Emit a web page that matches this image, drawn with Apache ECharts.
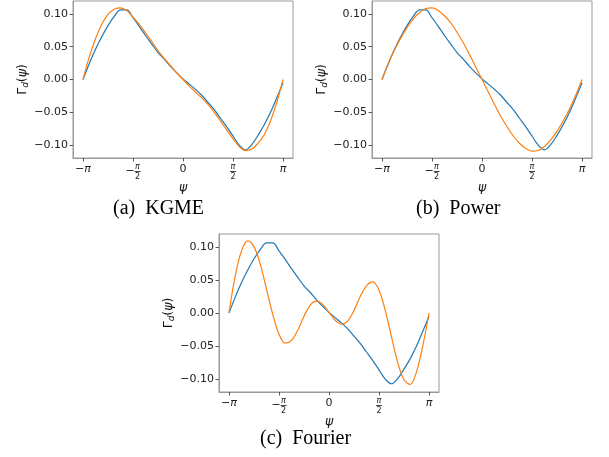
<!DOCTYPE html>
<html><head><meta charset="utf-8">
<script src="https://cdn.jsdelivr.net/npm/echarts@6/dist/echarts.min.js"></script>
<style>html,body{margin:0;padding:0;background:#fff}#c{width:609px;height:457px}</style>
</head><body><div id="c"></div>
<script>
// ψ sample positions (radians)
const psi = [-3.1416, -2.9452, -2.7489, -2.5525, -2.3562, -2.1598, -1.9635, -1.7671, -1.5708, -1.3744, -1.1781, -0.9817, -0.7854, -0.5890, -0.3927, -0.1963, 0,
  0.1963, 0.3927, 0.5890, 0.7854, 0.9817, 1.1781, 1.3744, 1.5708, 1.7671, 1.9635, 2.1598, 2.3562, 2.5525, 2.7489, 2.9452, 3.1416];
// empirical Γd (blue, shared by all panels)
const empirical = [0, 0.024, 0.046, 0.065, 0.082, 0.096, 0.106, 0.106, 0.094, 0.081, 0.067, 0.054, 0.041, 0.031, 0.020, 0.010, 0.001,
  -0.007, -0.015, -0.024, -0.035, -0.046, -0.059, -0.072, -0.086, -0.100, -0.107, -0.099, -0.085, -0.069, -0.050, -0.028, -0.005];
// fitted curves (orange)
const fitKGME = [0, 0.034, 0.062, 0.084, 0.099, 0.107, 0.109, 0.105, 0.095, 0.084, 0.071, 0.058, 0.044, 0.032, 0.021, 0.010, 0,
  -0.010, -0.019, -0.028, -0.038, -0.050, -0.063, -0.077, -0.090, -0.102, -0.108, -0.106, -0.097, -0.084, -0.063, -0.035, 0];
const fitPower = [0, 0.024, 0.045, 0.063, 0.079, 0.092, 0.102, 0.108, 0.109, 0.105, 0.097, 0.086, 0.072, 0.056, 0.038, 0.019, 0,
  -0.019, -0.038, -0.056, -0.072, -0.086, -0.097, -0.105, -0.109, -0.108, -0.102, -0.092, -0.079, -0.063, -0.045, -0.024, 0];
const fitFourier = [0, 0.056, 0.094, 0.109, 0.100, 0.074, 0.036, -0.002, -0.032, -0.0457, -0.0414, -0.026, -0.005, 0.012, 0.018, 0.013, 0.001,
  -0.011, -0.017, -0.012, 0.004, 0.025, 0.041, 0.047, 0.0345, 0.004, -0.036, -0.075, -0.101, -0.108, -0.089, -0.050, 0];

const xTickValues = [-3.14159265, -1.57079633, 0, 1.57079633, 3.14159265];
const xTickLabels = ['−π', '−π/2', '0', 'π/2', 'π'];
const yTickValues = [-0.10, -0.05, 0.00, 0.05, 0.10];
const yTickLabels = ['−0.10', '−0.05', '0.00', '0.05', '0.10'];
const captions = ['(a)  KGME', '(b)  Power', '(c)  Fourier'];
const fits = [fitKGME, fitPower, fitFourier];

const grids = [
  {left: 73, top: 1, width: 220, height: 157},
  {left: 372, top: 1, width: 220, height: 157},
  {left: 219, top: 234, width: 220, height: 158}
];
const captionPos = [{left: 113, top: 199}, {left: 416, top: 199}, {left: 260, top: 429}];

function xFmt(v) {
  let i = xTickValues.findIndex(t => Math.abs(t - v) < 1e-4);
  if (i < 0) return '';
  const s = xTickLabels[i];
  if (s === '0') return '{r|0}';
  if (s === 'π') return '{ri|π}';
  if (s === '−π') return '{r|−}{ri|π}';
  if (s === 'π/2') return '{fn|π}\n{fb| }\n{fd|2}';
  if (s === '−π/2') return '{fp| }{fn|π}\n{fm|−}{fb| }\n{fp| }{fd|2}';
  return s;
}
function yFmt(v) {
  let i = yTickValues.findIndex(t => Math.abs(t - v) < 1e-6);
  return i < 0 ? '' : yTickLabels[i];
}
const F = 'DejaVu Sans';
const frameColor = '#999';
const xRich = {
  r: {fontSize: 11, fontFamily: F, color: '#222', lineHeight: 13},
  ri: {fontSize: 11, fontFamily: F, fontStyle: 'italic', color: '#222', lineHeight: 13},
  fn: {fontSize: 8, fontFamily: F, fontStyle: 'italic', color: '#222', lineHeight: 7},
  fd: {fontSize: 8, fontFamily: F, color: '#222', lineHeight: 7},
  fb: {width: 6, height: 0.9, backgroundColor: '#333', lineHeight: 3, fontSize: 1},
  fm: {fontSize: 11, fontFamily: F, color: '#222', lineHeight: 3},
  fp: {width: 9, fontSize: 1, lineHeight: 7}
};
const yNameRich = {
  g: {fontSize: 12.5, fontFamily: F, color: '#111', lineHeight: 16},
  i: {fontSize: 12.5, fontFamily: F, fontStyle: 'italic', color: '#111', lineHeight: 16},
  d: {fontSize: 9, fontFamily: F, fontStyle: 'italic', color: '#111', lineHeight: 16, verticalAlign: 'bottom', padding: [6, 0, 0, 0]}
};

const option = {
  animation: false,
  backgroundColor: '#fff',
  title: captions.map((c, i) => ({
    text: c, left: captionPos[i].left, top: captionPos[i].top, padding: 0,
    textStyle: {fontFamily: 'Liberation Serif', fontSize: 20, fontWeight: 'normal', color: '#000'}
  })),
  grid: grids.map(g => Object.assign({show: true, borderColor: frameColor, borderWidth: 1, containLabel: false}, g)),
  xAxis: grids.map((g, i) => ({
    type: 'value', gridIndex: i, min: -3.4558, max: 3.4558,
    axisLine: {show: true, onZero: false, lineStyle: {color: frameColor, width: 1}},
    splitLine: {show: false},
    axisTick: {show: true, customValues: xTickValues, length: 3.5, lineStyle: {color: '#333', width: 0.8}},
    axisLabel: {customValues: xTickValues, formatter: xFmt, margin: 5, rich: xRich, color: '#222', fontSize: 11, fontFamily: F},
    name: 'ψ', nameLocation: 'middle', nameGap: 21,
    nameTextStyle: {fontFamily: F, fontStyle: 'italic', fontSize: 12.5, color: '#111'}
  })),
  yAxis: grids.map((g, i) => ({
    type: 'value', gridIndex: i, min: -0.1195, max: 0.1195,
    axisLine: {show: true, onZero: false, lineStyle: {color: frameColor, width: 1}},
    splitLine: {show: false},
    axisTick: {show: true, customValues: yTickValues, length: 3.5, lineStyle: {color: '#333', width: 0.8}},
    axisLabel: {customValues: yTickValues, formatter: yFmt, margin: 5, color: '#222', fontSize: 11, fontFamily: F},
    name: '{g|Γ}{d|d}{g|(}{i|ψ}{g|)}', nameLocation: 'middle', nameRotate: 90, nameGap: 41,
    nameTextStyle: {rich: yNameRich}
  })),
  series: [].concat(...grids.map((g, i) => [
    {type: 'line', xAxisIndex: i, yAxisIndex: i, symbol: 'none', smooth: 0.35, z: 2,
     lineStyle: {color: '#1f77b4', width: 1.2}, data: psi.map((x, j) => [x, empirical[j]])},
    {type: 'line', xAxisIndex: i, yAxisIndex: i, symbol: 'none', smooth: 0.35, z: 3,
     lineStyle: {color: '#ff7f0e', width: 1.2}, data: psi.map((x, j) => [x, fits[i][j]])}
  ]))
};
echarts.init(document.getElementById('c'), null, {renderer: 'canvas'}).setOption(option);
</script></body></html>
